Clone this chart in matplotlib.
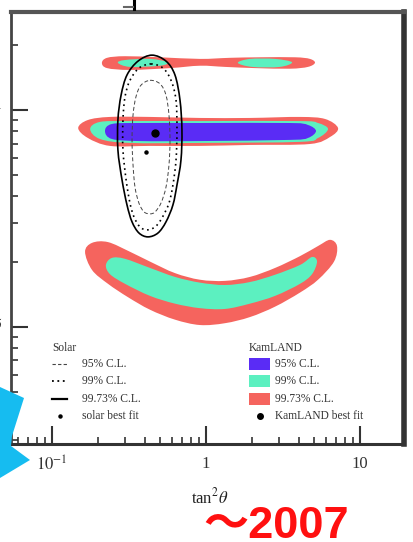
import numpy as np
import matplotlib
matplotlib.use("Agg")
import matplotlib.pyplot as plt
from matplotlib.path import Path
from matplotlib.patches import PathPatch, Polygon, Rectangle
from matplotlib.lines import Line2D

plt.rcParams['font.family'] = ['Liberation Serif', 'DejaVu Serif']
plt.rcParams['mathtext.fontset'] = 'stix'

# ---------------- data ----------------
x_ticks = [0.1, 1, 10]
x_ticklabels = [r'$10^{-1}$', '1', '10']
y_ticks = [1e-5, 1e-4]
y_ticklabels = [r'$10^{-5}$', r'$10^{-4}$']
xlim = (0.0542, 19.45)
ylim = (2.90e-6, 2.83e-4)

# KamLAND allowed regions (tan^2 theta, dm^2) -- upper island
kl_up_red_x = [0.211, 0.228, 0.298, 0.503, 0.914, 1.43, 2.24, 3.78, 4.73, 5.10, 4.59, 3.51, 2.08, 1.33, 0.914, 0.584, 0.321, 0.228]
kl_up_red_y = [1.65e-4, 1.74e-4, 1.77e-4, 1.75e-4, 1.72e-4, 1.74e-4, 1.75e-4, 1.75e-4, 1.72e-4, 1.65e-4, 1.58e-4, 1.55e-4, 1.56e-4, 1.58e-4, 1.60e-4, 1.56e-4, 1.53e-4, 1.56e-4]
kl_up_green1_x = [0.268, 0.298, 0.433, 0.566, 0.503, 0.321]
kl_up_green1_y = [1.65e-4, 1.70e-4, 1.72e-4, 1.66e-4, 1.60e-4, 1.58e-4]
kl_up_green2_x = [1.61, 1.93, 2.81, 3.62, 3.02, 1.99]
kl_up_green2_y = [1.65e-4, 1.72e-4, 1.72e-4, 1.66e-4, 1.58e-4, 1.58e-4]

# main band
kl_mid_red_x = [0.148, 0.171, 0.238, 0.433, 0.914, 1.93, 4.08, 5.93, 7.20, 6.39, 4.73, 1.93, 0.914, 0.433, 0.238, 0.171]
kl_mid_red_y = [8.26e-5, 8.99e-5, 9.29e-5, 9.29e-5, 9.19e-5, 9.19e-5, 9.29e-5, 9.09e-5, 8.26e-5, 7.51e-5, 6.97e-5, 6.90e-5, 6.83e-5, 6.83e-5, 6.83e-5, 7.43e-5]
kl_mid_green_x = [0.177, 0.205, 0.321, 0.914, 4.08, 5.34, 6.20, 5.34, 4.08, 0.914, 0.321, 0.205]
kl_mid_green_y = [8.17e-5, 8.81e-5, 8.89e-5, 8.89e-5, 8.89e-5, 8.71e-5, 8.17e-5, 7.43e-5, 7.13e-5, 7.05e-5, 7.05e-5, 7.35e-5]
kl_mid_blue_x = [0.221, 0.245, 0.373, 0.914, 3.51, 4.59, 5.18, 4.59, 3.51, 0.914, 0.373, 0.245]
kl_mid_blue_y = [8.00e-5, 8.62e-5, 8.71e-5, 8.71e-5, 8.71e-5, 8.53e-5, 8.00e-5, 7.43e-5, 7.28e-5, 7.19e-5, 7.19e-5, 7.35e-5]

# lower banana
kl_low_red_x = [0.164, 0.182, 0.231, 0.321, 0.433, 0.629, 0.914, 1.328, 1.930, 2.81, 4.08, 5.34, 6.39, 7.09, 6.78, 5.34, 4.08, 2.81, 1.930, 1.328, 0.914, 0.629, 0.433, 0.312, 0.231, 0.182]
kl_low_red_y = [2.22e-5, 2.44e-5, 2.46e-5, 2.22e-5, 2.00e-5, 1.77e-5, 1.65e-5, 1.63e-5, 1.70e-5, 1.87e-5, 2.12e-5, 2.36e-5, 2.52e-5, 2.36e-5, 2.00e-5, 1.65e-5, 1.44e-5, 1.24e-5, 1.11e-5, 1.04e-5, 1.02e-5, 1.08e-5, 1.20e-5, 1.37e-5, 1.58e-5, 1.83e-5]
kl_low_green_x = [0.224, 0.245, 0.298, 0.433, 0.629, 0.914, 1.328, 1.930, 2.81, 4.08, 4.88, 5.26, 4.88, 4.08, 2.81, 1.930, 1.328, 0.914, 0.629, 0.433, 0.298, 0.238]
kl_low_green_y = [1.93e-5, 2.08e-5, 2.06e-5, 1.87e-5, 1.70e-5, 1.60e-5, 1.56e-5, 1.61e-5, 1.74e-5, 1.93e-5, 2.10e-5, 2.00e-5, 1.75e-5, 1.58e-5, 1.39e-5, 1.28e-5, 1.21e-5, 1.22e-5, 1.28e-5, 1.39e-5, 1.58e-5, 1.75e-5]

# Solar contours
sol_9973_x = [0.446, 0.550, 0.629, 0.678, 0.698, 0.688, 0.648, 0.610, 0.550, 0.488, 0.420, 0.367, 0.331, 0.307, 0.285, 0.268, 0.268, 0.281, 0.307, 0.362]
sol_9973_y = [1.79e-4, 1.68e-4, 1.45e-4, 1.11e-4, 8.09e-5, 5.88e-5, 4.51e-5, 3.65e-5, 3.05e-5, 2.71e-5, 2.60e-5, 2.71e-5, 3.05e-5, 3.65e-5, 4.76e-5, 6.54e-5, 8.99e-5, 1.17e-4, 1.45e-4, 1.68e-4]
sol_99_x = [0.440, 0.526, 0.593, 0.639, 0.648, 0.639, 0.610, 0.575, 0.518, 0.467, 0.414, 0.373, 0.341, 0.321, 0.303, 0.289, 0.289, 0.298, 0.321, 0.367]
sol_99_y = [1.63e-4, 1.56e-4, 1.37e-4, 1.11e-4, 8.09e-5, 5.88e-5, 4.51e-5, 3.72e-5, 3.18e-5, 2.89e-5, 2.80e-5, 2.89e-5, 3.21e-5, 3.72e-5, 4.76e-5, 6.54e-5, 8.99e-5, 1.15e-4, 1.37e-4, 1.56e-4]
sol_95_x = [0.433, 0.503, 0.550, 0.575, 0.584, 0.575, 0.550, 0.510, 0.467, 0.433, 0.396, 0.367, 0.346, 0.336, 0.331, 0.336, 0.351, 0.378]
sol_95_y = [1.37e-4, 1.32e-4, 1.17e-4, 9.48e-5, 7.28e-5, 5.58e-5, 4.41e-5, 3.72e-5, 3.39e-5, 3.32e-5, 3.39e-5, 3.72e-5, 4.41e-5, 5.58e-5, 7.28e-5, 9.48e-5, 1.15e-4, 1.30e-4]

kamland_best = (0.467, 7.83e-5)
solar_best = (0.408, 6.40e-5)

solar_labels = ['95% C.L.', '99% C.L.', '99.73% C.L.', 'solar best fit']
kamland_labels = ['95% C.L.', '99% C.L.', '99.73% C.L.', 'KamLAND best fit']

# ---------------- styles ----------------
RED = '#f5645e'
GREEN = '#5cf0c0'
BLUE = '#5a2cf5'
CYAN = '#16bcf0'

W, H = 413, 542
fig = plt.figure(figsize=(W / 100, H / 100), dpi=100)
fig.patch.set_facecolor('white')


def P(x, y):
    """pixel (y down) -> figure fraction"""
    return x / W, 1 - y / H


L, R, T, B = 11, 404.5, 12, 443.5
ax = fig.add_axes([L / W, (H - B) / H, (R - L) / W, (B - T) / H])
ax.set_xscale('log')
ax.set_yscale('log')
ax.set_xlim(*xlim)
ax.set_ylim(*ylim)


def smooth_closed(xs, ys):
    pts = np.column_stack([np.log10(xs), np.log10(ys)])
    n = len(pts)
    verts = [pts[0]]
    codes = [Path.MOVETO]
    for i in range(n):
        p0, p1, p2, p3 = pts[(i - 1) % n], pts[i], pts[(i + 1) % n], pts[(i + 2) % n]
        verts += [p1 + (p2 - p0) / 6, p2 - (p3 - p1) / 6, p2]
        codes += [Path.CURVE4] * 3
    verts.append(pts[0])
    codes.append(Path.CLOSEPOLY)
    return Path(10 ** np.array(verts), codes)


def fill_region(xs, ys, color, z):
    ax.add_patch(PathPatch(smooth_closed(xs, ys), facecolor=color, edgecolor='none',
                           transform=ax.transData, zorder=z))


def line_region(xs, ys, z, **kw):
    ax.add_patch(PathPatch(smooth_closed(xs, ys), facecolor='none',
                           transform=ax.transData, zorder=z, **kw))


fill_region(kl_up_red_x, kl_up_red_y, RED, 1)
fill_region(kl_up_green1_x, kl_up_green1_y, GREEN, 2)
fill_region(kl_up_green2_x, kl_up_green2_y, GREEN, 2)
fill_region(kl_mid_red_x, kl_mid_red_y, RED, 1)
fill_region(kl_mid_green_x, kl_mid_green_y, GREEN, 2)
fill_region(kl_mid_blue_x, kl_mid_blue_y, BLUE, 3)
fill_region(kl_low_red_x, kl_low_red_y, RED, 1)
fill_region(kl_low_green_x, kl_low_green_y, GREEN, 2)

line_region(sol_95_x, sol_95_y, 5, edgecolor='#444444', linewidth=0.7, linestyle=(0, (4, 2.5)))
line_region(sol_99_x, sol_99_y, 5, edgecolor='black', linewidth=1.2, linestyle=(0, (1, 2.2)))
line_region(sol_9973_x, sol_9973_y, 5, edgecolor='black', linewidth=1.2)

ax.plot([kamland_best[0]], [kamland_best[1]], 'o', color='black', ms=5, zorder=6)
ax.plot([solar_best[0]], [solar_best[1]], 'o', color='black', ms=2.2, zorder=6)

# axes styling
for side, lw, col in [('left', 2.0, '#444444'), ('bottom', 2.2, '#333333'),
                      ('top', 3.0, '#555555'), ('right', 4.0, '#333333')]:
    ax.spines[side].set_linewidth(lw)
    ax.spines[side].set_color(col)

ax.tick_params(which='both', direction='in', top=False, right=False, color='#333333')
ax.tick_params(which='major', length=12, width=1.5)
ax.tick_params(which='minor', length=5, width=1.2)
ax.tick_params(axis='x', which='major', labelsize=12, pad=9, length=13)
ax.tick_params(axis='y', which='major', labelsize=12, pad=6)
ax.set_xticks(x_ticks)
ax.set_xticklabels(x_ticklabels)
ax.set_yticks(y_ticks)
ax.set_yticklabels(y_ticklabels)
ax.xaxis.set_minor_formatter(matplotlib.ticker.NullFormatter())
ax.yaxis.set_minor_formatter(matplotlib.ticker.NullFormatter())
for lab in ax.get_xticklabels() + ax.get_yticklabels():
    lab.set_color('#333333')

fig.text(*P(210, 497), r'tan$^2\theta$', ha='center', va='center', fontsize=12, color='#222222')

# legend (manual)
LFS = 8.3
TXT = '#333333'
fig.text(*P(52, 348), 'Solar', fontsize=LFS, va='center', ha='left', color=TXT)
fig.text(*P(249, 348), 'KamLAND', fontsize=LFS, va='center', ha='left', color=TXT)
rows = [364, 381, 399, 416]
sol_styles = [dict(color='#444444', lw=0.8, ls=(0, (3, 2))),
              dict(color='black', lw=1.3, ls=(0, (1, 2))),
              dict(color='black', lw=1.6, ls='-')]
for yy, st in zip(rows[:3], sol_styles):
    x0, y0 = P(52, yy)
    x1, _ = P(67, yy)
    fig.add_artist(Line2D([x0, x1], [y0, y0], transform=fig.transFigure, **st))
fig.add_artist(Line2D([P(60, rows[3])[0]], [P(60, rows[3])[1]], marker='o', ms=2.2,
                      color='black', transform=fig.transFigure))
for yy, lab in zip(rows, solar_labels):
    fig.text(*P(82, yy), lab, fontsize=LFS, va='center', ha='left', color=TXT)

for yy, col in zip(rows[:3], [BLUE, GREEN, RED]):
    x0, y0 = P(249, yy + 6)
    fig.add_artist(Rectangle((x0, y0), 21 / W, 12 / H, facecolor=col, edgecolor='none',
                             transform=fig.transFigure))
fig.add_artist(Line2D([P(260, rows[3])[0]], [P(260, rows[3])[1]], marker='o', ms=4,
                      color='black', transform=fig.transFigure))
for yy, lab in zip(rows, kamland_labels):
    fig.text(*P(275, yy), lab, fontsize=LFS, va='center', ha='left', color=TXT)

# slide decorations
fig.add_artist(Line2D([P(133.5, 0)[0], P(133.5, 9)[0]], [P(133.5, 0)[1], P(133.5, 9)[1]],
                      color='black', lw=2.2, transform=fig.transFigure))
fig.add_artist(Line2D([P(124, 6.5)[0], P(133, 6.5)[0]], [P(124, 6.5)[1], P(133, 6.5)[1]],
                      color='#666666', lw=1.5, transform=fig.transFigure))
cyan_px = [(0, 387), (24, 398), (12, 436), (11, 446), (30, 460), (0, 478)]
fig.add_artist(Polygon([P(*p) for p in cyan_px], closed=True, facecolor=CYAN,
                       edgecolor='none', transform=fig.transFigure, zorder=5))

fig.text(203 / W, 1 - 538 / H, '〜2007', fontsize=32.5, fontweight='bold', color='#ff1010',
         ha='left', va='baseline', family=['Liberation Sans', 'Noto Sans CJK JP'])

fig.savefig('out.png', dpi=100)
